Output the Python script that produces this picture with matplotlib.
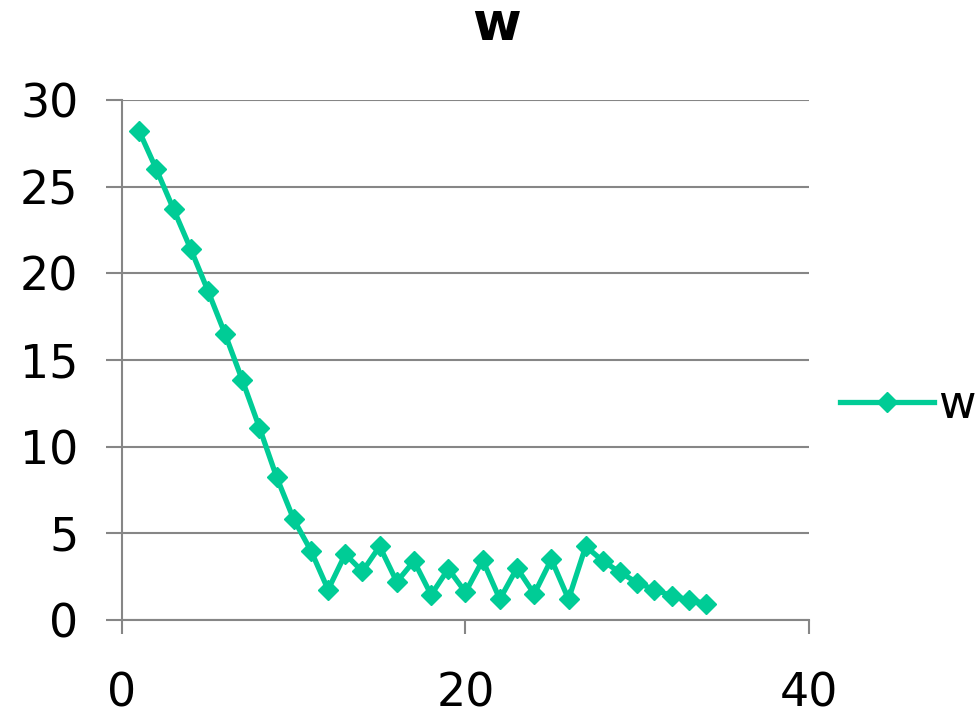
import numpy as np
import matplotlib.pyplot as plt

# data
x = np.arange(1, 35)
w = [28.2, 26.0, 23.7, 21.4, 19.0, 16.5, 13.85, 11.1, 8.25, 5.8,
     4.0, 1.75, 3.8, 2.8, 4.25, 2.2, 3.4, 1.45, 2.95, 1.6,
     3.45, 1.2, 3.0, 1.5, 3.5, 1.2, 4.25, 3.4, 2.75, 2.15,
     1.75, 1.4, 1.15, 0.95]
yticks = [0, 5, 10, 15, 20, 25, 30]
xticks = [0, 20, 40]

green = '#00CC96'
grey = '#868686'

fig = plt.figure(figsize=(9.77, 7.17), dpi=100)
ax = fig.add_axes([0.1249, 0.1353, 0.828 - 0.1249, 0.8605 - 0.1353])

ax.plot(x, w, color=green, lw=3.8, marker='D', ms=10.5, label='w')

ax.set_xlim(0, 40)
ax.set_ylim(0, 30)
ax.set_xticks(xticks)
ax.set_yticks(yticks)
ax.yaxis.grid(True, color=grey, lw=1.5)
ax.set_axisbelow(True)
for s in ['top', 'right']:
    ax.spines[s].set_visible(False)
for s in ['left', 'bottom']:
    ax.spines[s].set_color(grey)
    ax.spines[s].set_linewidth(1.5)
ax.tick_params(axis='y', length=11.5, width=1.5, color=grey, labelsize=33, pad=20)
ax.tick_params(axis='x', length=10, width=1.5, color=grey, labelsize=33, pad=27)

fig.text(497 / 977, 1 - 25 / 717, 'w', ha='center', va='center',
         fontsize=38, fontweight='bold')

ax.legend(loc='center left', bbox_to_anchor=(1.045, 0.413), frameon=False,
          fontsize=33, handlelength=2.05, handletextpad=0.1,
          borderaxespad=0, borderpad=0)

plt.savefig('out.png', dpi=100)
